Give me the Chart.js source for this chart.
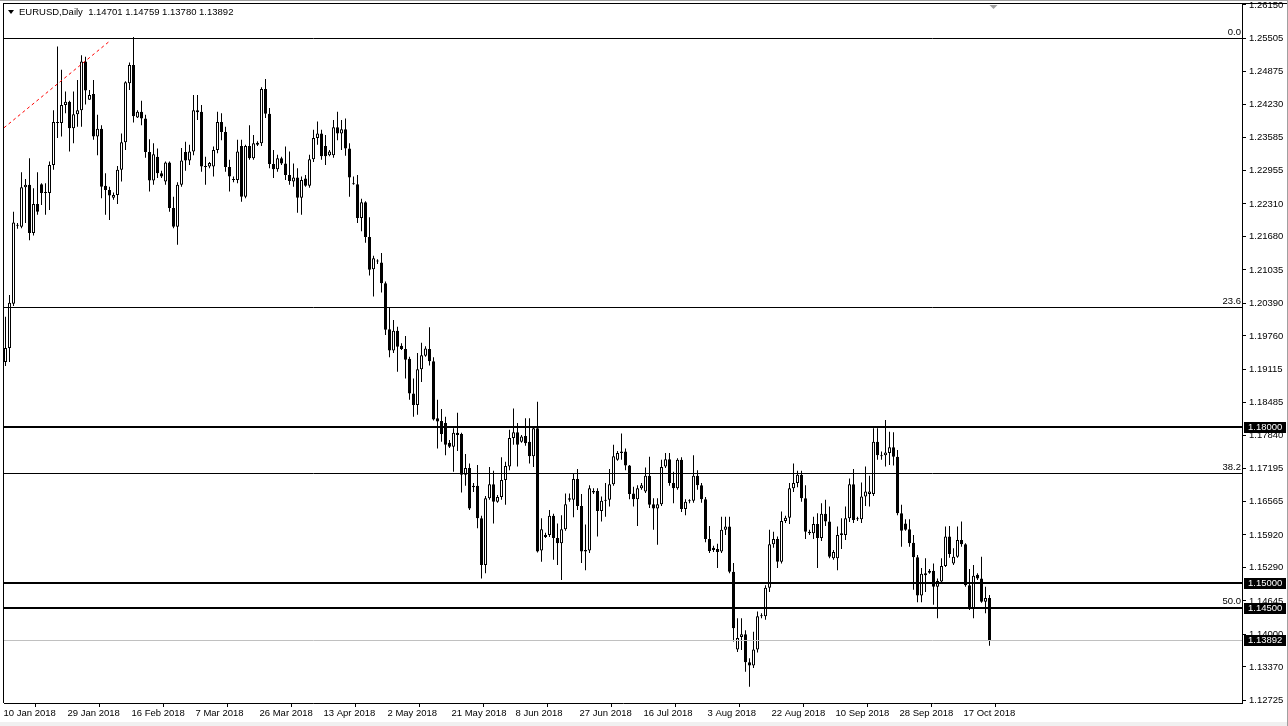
<!DOCTYPE html>
<html><head><meta charset="utf-8">
<script src="https://cdn.jsdelivr.net/npm/chart.js@4.4.1/dist/chart.umd.min.js"></script>
<style>
html,body{margin:0;padding:0;background:#fff;}
#wrap{position:relative;width:1288px;height:726px;overflow:hidden;}
#c{position:absolute;left:0;top:0;}
#title{position:absolute;left:8px;top:6px;font:9.5px "Liberation Sans",Arial,sans-serif;color:#000;white-space:pre;line-height:12px;}
#tri{display:inline-block;width:0;height:0;border-left:3.5px solid transparent;border-right:3.5px solid transparent;border-top:4px solid #000;margin-right:5px;vertical-align:1px;}
</style></head>
<body><div id="wrap"><canvas id="c" width="1288" height="726"></canvas>
<div id="title"><span id="tri"></span><span id="ttext"></span></div></div>
<script>
const symbolName = 'EURUSD';
const timeframe = 'Daily';
const opens = [
1.1926,1.1953,1.2038,1.2189,1.2187,1.2263,1.2268,1.2175,1.2231,1.2269,
1.2252,1.2252,1.2306,1.2387,1.2387,1.2422,1.2428,1.2377,1.2404,1.2412,
1.2506,1.2432,1.2443,1.2361,1.2376,1.2266,1.2258,1.2243,1.2248,1.2297,
1.2350,1.2464,1.2499,1.2398,1.2409,1.2396,1.2331,1.2276,1.2322,1.2290,
1.2274,1.2311,1.2223,1.2187,1.2268,1.2331,1.2315,1.2332,1.2412,1.2409,
1.2303,1.2303,1.2303,1.2335,1.2389,1.2370,1.2302,1.2277,1.2277,1.2343,
1.2245,1.2343,1.2319,1.2345,1.2348,1.2453,1.2405,1.2308,1.2298,1.2319,
1.2309,1.2287,1.2274,1.2282,1.2243,1.2280,1.2266,1.2317,1.2358,1.2367,
1.2343,1.2325,1.2325,1.2379,1.2367,1.2375,1.2338,1.2269,1.2269,1.2204,
1.2234,1.2167,1.2105,1.2120,1.2118,1.2078,1.1989,1.1948,1.1986,1.1957,
1.1951,1.1932,1.1865,1.1843,1.1912,1.1938,1.1951,1.1927,1.1817,1.1812,
1.1808,1.1770,1.1762,1.1789,1.1787,1.1708,1.1721,1.1687,1.1687,1.1624,
1.1534,1.1663,1.1690,1.1656,1.1665,1.1698,1.1724,1.1779,1.1790,1.1772,
1.1783,1.1772,1.1744,1.1798,1.1562,1.1588,1.1592,1.1629,1.1586,1.1576,
1.1603,1.1663,1.1660,1.1700,1.1648,1.1563,1.1562,1.1677,1.1677,1.1638,
1.1658,1.1660,1.1690,1.1737,1.1750,1.1753,1.1726,1.1672,1.1661,1.1682,
1.1676,1.1706,1.1651,1.1643,1.1651,1.1724,1.1738,1.1692,1.1682,1.1737,
1.1642,1.1658,1.1658,1.1706,1.1688,1.1661,1.1584,1.1567,1.1565,1.1560,
1.1602,1.1608,1.1521,1.1371,1.1395,1.1400,1.1346,1.1340,1.1371,1.1435,
1.1435,1.1490,1.1574,1.1584,1.1540,1.1619,1.1625,1.1682,1.1692,1.1708,
1.1663,1.1598,1.1595,1.1613,1.1586,1.1633,1.1618,1.1547,1.1547,1.1595,
1.1592,1.1624,1.1690,1.1622,1.1622,1.1666,1.1671,1.1671,1.1772,1.1746,
1.1746,1.1750,1.1761,1.1743,1.1634,1.1614,1.1603,1.1577,1.1549,1.1475,
1.1514,1.1519,1.1523,1.1492,1.1502,1.1532,1.1589,1.1537,1.1550,1.1582,
1.1574,1.1495,1.1450,1.1515,1.1508,1.1463,1.14701];
const highs = [
1.2013,1.2055,1.2216,1.2194,1.2292,1.2279,1.2319,1.2261,1.2292,1.2271,
1.2271,1.2313,1.2412,1.2535,1.2490,1.2448,1.2430,1.2448,1.2470,1.2518,
1.2515,1.2451,1.2470,1.2403,1.2383,1.2290,1.2264,1.2253,1.2304,1.2367,
1.2468,1.2504,1.2553,1.2412,1.2430,1.2403,1.2356,1.2348,1.2338,1.2295,
1.2313,1.2313,1.2245,1.2273,1.2339,1.2351,1.2345,1.2441,1.2441,1.2422,
1.2322,1.2312,1.2342,1.2409,1.2406,1.2380,1.2316,1.2284,1.2355,1.2355,
1.2345,1.2383,1.2364,1.2352,1.2456,1.2472,1.2416,1.2335,1.2326,1.2322,
1.2342,1.2332,1.2309,1.2300,1.2284,1.2287,1.2326,1.2374,1.2390,1.2374,
1.2364,1.2335,1.2393,1.2409,1.2393,1.2396,1.2348,1.2284,1.2287,1.2241,
1.2236,1.2205,1.2131,1.2124,1.2136,1.2081,1.2030,1.2007,1.1994,1.1962,
1.1976,1.1936,1.1894,1.1943,1.1963,1.1956,1.1993,1.1935,1.1853,1.1835,
1.1820,1.1775,1.1798,1.1828,1.1789,1.1748,1.1730,1.1692,1.1727,1.1629,
1.1667,1.1723,1.1716,1.1669,1.1742,1.1733,1.1795,1.1836,1.1808,1.1785,
1.1817,1.1817,1.1800,1.1849,1.1624,1.1596,1.1640,1.1633,1.1614,1.1630,
1.1672,1.1672,1.1711,1.1719,1.1671,1.1612,1.1688,1.1682,1.1682,1.1666,
1.1692,1.1719,1.1766,1.1754,1.1788,1.1759,1.1727,1.1685,1.1688,1.1692,
1.1722,1.1743,1.1663,1.1663,1.1737,1.1750,1.1750,1.1714,1.1740,1.1742,
1.1661,1.1661,1.1746,1.1717,1.1692,1.1665,1.1609,1.1571,1.1575,1.1627,
1.1627,1.1627,1.1538,1.1431,1.1431,1.1408,1.1354,1.1405,1.1444,1.1441,
1.1495,1.1602,1.1598,1.1589,1.1637,1.1629,1.1692,1.1730,1.1716,1.1716,
1.1688,1.1602,1.1627,1.1634,1.1653,1.1660,1.1647,1.1563,1.1608,1.1624,
1.1647,1.1701,1.1719,1.1627,1.1693,1.1724,1.1706,1.1798,1.1798,1.1753,
1.1814,1.1791,1.1790,1.1756,1.1650,1.1622,1.1622,1.1592,1.1553,1.1528,
1.1547,1.1526,1.1537,1.1508,1.1547,1.1608,1.1609,1.1566,1.1608,1.1618,
1.1576,1.1526,1.1534,1.1518,1.1550,1.1492,1.14759];
const lows = [
1.1918,1.1926,1.2034,1.2183,1.2184,1.2194,1.2161,1.2170,1.2210,1.2229,
1.2210,1.2219,1.2297,1.2358,1.2361,1.2406,1.2332,1.2348,1.2380,1.2380,
1.2423,1.2432,1.2355,1.2325,1.2242,1.2210,1.2200,1.2239,1.2231,1.2274,
1.2335,1.2451,1.2388,1.2397,1.2383,1.2320,1.2255,1.2268,1.2281,1.2281,
1.2268,1.2216,1.2184,1.2152,1.2264,1.2295,1.2306,1.2325,1.2393,1.2293,
1.2268,1.2300,1.2284,1.2329,1.2354,1.2293,1.2255,1.2273,1.2271,1.2235,
1.2242,1.2316,1.2316,1.2343,1.2343,1.2397,1.2300,1.2281,1.2293,1.2306,
1.2277,1.2268,1.2264,1.2214,1.2210,1.2264,1.2262,1.2312,1.2345,1.2316,
1.2306,1.2323,1.2320,1.2354,1.2335,1.2324,1.2245,1.2268,1.2194,1.2178,
1.2156,1.2093,1.2052,1.2115,1.2060,1.1978,1.1935,1.1943,1.1907,1.1949,
1.1894,1.1853,1.1820,1.1824,1.1887,1.1936,1.1919,1.1813,1.1759,1.1772,
1.1746,1.1760,1.1714,1.1754,1.1674,1.1687,1.1640,1.1675,1.1605,1.1508,
1.1518,1.1660,1.1614,1.1654,1.1660,1.1650,1.1717,1.1766,1.1724,1.1770,
1.1764,1.1730,1.1723,1.1558,1.1540,1.1586,1.1588,1.1544,1.1534,1.1505,
1.1600,1.1656,1.1626,1.1640,1.1538,1.1524,1.1557,1.1671,1.1589,1.1618,
1.1627,1.1647,1.1687,1.1735,1.1737,1.1717,1.1661,1.1647,1.1609,1.1679,
1.1673,1.1644,1.1602,1.1573,1.1648,1.1721,1.1687,1.1653,1.1679,1.1636,
1.1630,1.1653,1.1654,1.1679,1.1654,1.1578,1.1557,1.1559,1.1528,1.1557,
1.1592,1.1518,1.1386,1.1366,1.1370,1.1328,1.1299,1.1335,1.1365,1.1431,
1.1428,1.1482,1.1567,1.1528,1.1537,1.1615,1.1613,1.1675,1.1684,1.1656,
1.1584,1.1592,1.1584,1.1528,1.1580,1.1609,1.1547,1.1544,1.1524,1.1565,
1.1582,1.1617,1.1615,1.1619,1.1615,1.1648,1.1647,1.1667,1.1737,1.1737,
1.1724,1.1727,1.1726,1.1630,1.1569,1.1600,1.1569,1.1486,1.1462,1.1462,
1.1482,1.1517,1.1457,1.1431,1.1497,1.1530,1.1548,1.1534,1.1548,1.1569,
1.1492,1.1447,1.1431,1.1505,1.1461,1.1441,1.13780];
const closes = [
1.1953,1.2040,1.2195,1.2190,1.2263,1.2268,1.2175,1.2231,1.2216,1.2252,
1.2253,1.2306,1.2389,1.2389,1.2422,1.2428,1.2377,1.2404,1.2412,1.2506,
1.2450,1.2441,1.2361,1.2376,1.2264,1.2258,1.2247,1.2248,1.2297,1.2350,
1.2466,1.2499,1.2400,1.2409,1.2396,1.2331,1.2276,1.2327,1.2290,1.2284,
1.2311,1.2223,1.2187,1.2268,1.2315,1.2315,1.2332,1.2412,1.2408,1.2303,
1.2302,1.2310,1.2335,1.2389,1.2370,1.2302,1.2284,1.2278,1.2332,1.2245,
1.2343,1.2319,1.2348,1.2349,1.2453,1.2405,1.2308,1.2298,1.2319,1.2309,
1.2287,1.2275,1.2282,1.2243,1.2277,1.2266,1.2317,1.2358,1.2367,1.2323,
1.2323,1.2332,1.2379,1.2367,1.2375,1.2338,1.2282,1.2270,1.2204,1.2234,
1.2167,1.2104,1.2126,1.2121,1.2078,1.1988,1.1948,1.1986,1.1955,1.1951,
1.1930,1.1865,1.1843,1.1912,1.1939,1.1952,1.1927,1.1815,1.1811,1.1787,
1.1766,1.1762,1.1789,1.1785,1.1708,1.1721,1.1643,1.1684,1.1624,1.1534,
1.1663,1.1690,1.1656,1.1665,1.1698,1.1725,1.1779,1.1790,1.1766,1.1782,
1.1769,1.1744,1.1798,1.1560,1.1603,1.1592,1.1629,1.1586,1.1576,1.1603,
1.1651,1.1660,1.1700,1.1648,1.1560,1.1560,1.1682,1.1674,1.1638,1.1658,
1.1660,1.1690,1.1744,1.1750,1.1753,1.1726,1.1671,1.1661,1.1682,1.1688,
1.1706,1.1650,1.1643,1.1651,1.1723,1.1738,1.1692,1.1682,1.1737,1.1642,
1.1656,1.1657,1.1706,1.1688,1.1661,1.1584,1.1561,1.1563,1.1559,1.1602,
1.1608,1.1521,1.1412,1.1393,1.1400,1.1346,1.1340,1.1371,1.1435,1.1437,
1.1490,1.1574,1.1584,1.1540,1.1619,1.1625,1.1682,1.1692,1.1708,1.1663,
1.1598,1.1595,1.1613,1.1586,1.1633,1.1618,1.1550,1.1559,1.1592,1.1592,
1.1624,1.1690,1.1621,1.1623,1.1666,1.1676,1.1676,1.1772,1.1746,1.1744,
1.1751,1.1761,1.1743,1.1634,1.1600,1.1602,1.1576,1.1549,1.1475,1.1517,
1.1518,1.1523,1.1492,1.1503,1.1532,1.1589,1.1555,1.1550,1.1582,1.1574,
1.1495,1.1450,1.1513,1.1508,1.1463,1.1470,1.13892];

const dateLabels = ['10 Jan 2018','29 Jan 2018','16 Feb 2018','7 Mar 2018','26 Mar 2018','13 Apr 2018','2 May 2018','21 May 2018','8 Jun 2018','27 Jun 2018','16 Jul 2018','3 Aug 2018','22 Aug 2018','10 Sep 2018','28 Sep 2018','17 Oct 2018'];
const dateLabelBars = [0,16,32,48,64,80,96,112,128,144,160,176,192,208,224,240];
const priceTicks = [1.26150,1.25505,1.24875,1.24230,1.23585,1.22955,1.22310,1.21680,1.21035,1.20390,1.19760,1.19115,1.18485,1.17840,1.17195,1.16565,1.15920,1.15290,1.14645,1.14000,1.13370,1.12725];
const fibLow = 1.0353, fibHigh = 1.2551;
const fibLevels = [0.0, 23.6, 38.2, 50.0];
const levelLines = [1.18000, 1.15000, 1.14500];
const bidPrice = closes[closes.length - 1];
const trendX = [-0.375, 26];
const trendY = [1.2378, 1.2545];

const Y_MIN = 1.12675, Y_MAX = 1.26169;
const X_MIN = -0.375, X_MAX = 309.125;
const FONT = '"Liberation Sans", Arial, sans-serif';
const FS = 9.5;

document.getElementById('ttext').textContent = symbolName + ',' + timeframe + '  ' +
  [opens, highs, lows, closes].map(a => a[a.length - 1].toFixed(5)).join(' ');

Chart.defaults.font.family = FONT;
Chart.defaults.font.size = FS;
Chart.defaults.color = '#000';

const wickData = highs.map((h, i) => ({x: i, y: [lows[i], h]}));
const bodyData = opens.map((o, i) => ({x: i, y: [o, closes[i]]}));
const trendData = trendX.map((x, i) => ({x: x, y: trendY[i]}));

const mt4 = {
  id: 'mt4',
  beforeDraw(chart) {
    const c = chart.ctx;
    c.save();
    c.fillStyle = '#ffffff';
    c.fillRect(0, 0, chart.width, chart.height);
    c.restore();
  },
  afterDatasetsDraw(chart) {
    const c = chart.ctx, a = chart.chartArea, ys = chart.scales.y;
    c.save();
    c.beginPath(); c.rect(a.left, a.top, a.right - a.left, a.bottom - a.top); c.clip();
    // bid line
    let yb = Math.round(ys.getPixelForValue(bidPrice)) + 0.5;
    c.strokeStyle = '#c0c0c0'; c.lineWidth = 1;
    c.beginPath(); c.moveTo(a.left, yb); c.lineTo(a.right, yb); c.stroke();
    // fib lines
    c.strokeStyle = '#000'; c.lineWidth = 1;
    fibLevels.forEach(l => {
      const p = fibHigh - (fibHigh - fibLow) * l / 100;
      const y = Math.round(ys.getPixelForValue(p)) + 0.5;
      c.beginPath(); c.moveTo(a.left, y); c.lineTo(a.right, y); c.stroke();
    });
    // level lines
    c.lineWidth = 2;
    levelLines.forEach(p => {
      const y = Math.round(ys.getPixelForValue(p));
      c.beginPath(); c.moveTo(a.left, y); c.lineTo(a.right, y); c.stroke();
    });
    // fib labels
    c.fillStyle = '#000'; c.font = FS + 'px ' + FONT; c.textAlign = 'right'; c.textBaseline = 'bottom';
    fibLevels.forEach(l => {
      const p = fibHigh - (fibHigh - fibLow) * l / 100;
      const y = Math.round(ys.getPixelForValue(p));
      c.fillText(l.toFixed(1), a.right - 1, y - 0.5);
    });
    c.restore();
  },
  afterDraw(chart) {
    const c = chart.ctx, a = chart.chartArea, ys = chart.scales.y, xs = chart.scales.x;
    c.save();
    // window frame
    c.fillStyle = '#a0a0a0'; c.fillRect(0, 0, chart.width, 1);
    c.fillStyle = '#000';
    c.fillRect(a.left - 1, a.top - 1, chart.width - a.left, 1);
    c.fillRect(a.left - 1, a.top - 1, 1, a.bottom - a.top + 1);
    c.fillStyle = '#f0f0f0'; c.fillRect(0, 722, chart.width, 4);
    c.fillStyle = '#a0a0a0'; c.fillRect(chart.width - 1, 0, 1, chart.height);
    // chart shift marker
    const sx = xs.getPixelForValue(opens.length);
    c.fillStyle = '#a0a0a0';
    c.beginPath(); c.moveTo(sx - 4, a.top + 1); c.lineTo(sx + 4, a.top + 1); c.lineTo(sx, a.top + 5); c.closePath(); c.fill();
    // price boxes
    c.font = FS + 'px ' + FONT; c.textAlign = 'left'; c.textBaseline = 'middle';
    const boxes = levelLines.concat([bidPrice]);
    boxes.forEach(p => {
      const y = Math.round(ys.getPixelForValue(p));
      c.fillStyle = '#000'; c.fillRect(a.right + 2, y - 5, 42, 11);
      c.fillStyle = '#fff'; c.fillText(p.toFixed(5), a.right + 6, y + 0.5);
    });
    c.restore();
  }
};

new Chart(document.getElementById('c'), {
  type: 'bar',
  data: {
    datasets: [
      {type: 'line', data: trendData, borderColor: '#ff0000', borderWidth: 1, borderDash: [3, 3], pointRadius: 0, fill: false, order: 0},
      {data: bodyData, barThickness: 3, grouped: false, borderWidth: 1, borderColor: '#000', borderSkipped: false, inflateAmount: 0, minBarLength: 1,
        backgroundColor: (ctx) => (ctx.raw && ctx.raw.y[1] >= ctx.raw.y[0]) ? '#ffffff' : '#000000', order: 1},
      {data: wickData, barThickness: 1, grouped: false, borderWidth: 0, backgroundColor: '#000', inflateAmount: 0, order: 2}
    ]
  },
  options: {
    responsive: false, animation: false, events: [],
    layout: {padding: {left: 4, top: 4, right: 0, bottom: 0}, autoPadding: false},
    plugins: {legend: {display: false}, tooltip: {enabled: false}, title: {display: false}},
    scales: {
      x: {
        type: 'linear', position: 'bottom', min: X_MIN, max: X_MAX, offset: false,
        afterBuildTicks: (s) => { s.ticks = dateLabelBars.map(i => ({value: i - 0.5})); },
        afterFit: (s) => { s.height = 23; s.paddingLeft = 0; s.paddingRight = 0; },
        ticks: {autoSkip: false, maxRotation: 0, minRotation: 0, align: 'start', padding: 1, color: '#000',
          callback: (v, idx) => dateLabels[idx]},
        grid: {drawOnChartArea: false, drawTicks: true, tickLength: 4, color: '#000', tickColor: '#000'},
        border: {display: true, color: '#000', width: 1}
      },
      y: {
        type: 'linear', position: 'right', min: Y_MIN, max: Y_MAX,
        afterBuildTicks: (s) => { s.ticks = priceTicks.map(v => ({value: v})); },
        afterFit: (s) => { s.width = 46; s.paddingTop = 0; s.paddingBottom = 0; },
        ticks: {autoSkip: false, padding: 3, color: '#000', callback: (v) => Number(v).toFixed(5)},
        grid: {drawOnChartArea: false, drawTicks: true, tickLength: 4, color: '#000', tickColor: '#000'},
        border: {display: true, color: '#000', width: 1}
      }
    }
  },
  plugins: [mt4]
});
</script>
</body></html>
